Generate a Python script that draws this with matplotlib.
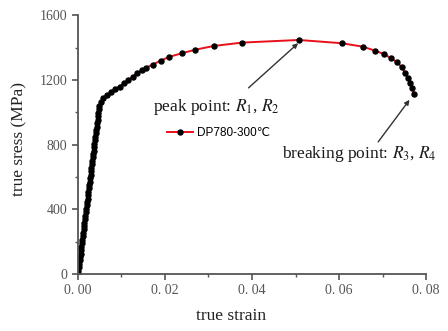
import matplotlib
matplotlib.use('Agg')
import matplotlib.pyplot as plt


# elastic part (dense points) + plastic part + necking part
strain = [0.0, 0.0001, 0.0002, 0.0003, 0.0004, 0.0005, 0.0006, 0.0007, 0.0008, 0.0009,
          0.0010, 0.0011, 0.0012, 0.0013, 0.0014, 0.0015, 0.0016, 0.0017, 0.0018, 0.0019,
          0.0020, 0.0021, 0.0022, 0.0023, 0.0024, 0.0025, 0.0026, 0.0027, 0.0028, 0.0029,
          0.0030, 0.0031, 0.0032, 0.0033, 0.0034, 0.0035, 0.0036, 0.0037, 0.0038, 0.0039,
          0.0040, 0.0041, 0.0042, 0.0043, 0.0044, 0.0045, 0.0046, 0.0047, 0.0048, 0.0049,
          0.00529, 0.00575, 0.00667, 0.00759, 0.00858, 0.00956, 0.0106, 0.0116,
          0.0126, 0.0136, 0.0147, 0.0157, 0.0172, 0.0190, 0.0209, 0.0239, 0.0270,
          0.0312, 0.0378, 0.0508, 0.0606, 0.0654, 0.0683, 0.0704, 0.0720, 0.0733,
          0.0744, 0.0752, 0.0758, 0.0763, 0.0768, 0.0772]
stress = [0, 21, 42, 64, 85, 106, 127, 148, 170, 191,
          212, 233, 254, 276, 297, 318, 339, 360, 382, 403,
          424, 445, 466, 488, 509, 530, 551, 572, 594, 615,
          636, 657, 678, 700, 721, 742, 763, 784, 806, 827,
          848, 869, 890, 912, 933, 954, 975, 996, 1018, 1040,
          1066, 1087, 1108, 1124, 1143, 1159, 1180, 1200, 1221, 1242, 1262, 1276,
          1295, 1319, 1342, 1365, 1387, 1410, 1431, 1447, 1427, 1406, 1381, 1359,
          1334, 1310, 1279, 1245, 1211, 1180, 1149, 1114]

xticks = [0.0, 0.02, 0.04, 0.06, 0.08]
xticklabels = ['0. 00', '0. 02', '0. 04', '0. 06', '0. 08']
yticks = [0, 400, 800, 1200, 1600]

plt.rcParams['font.family'] = ['Liberation Serif', 'DejaVu Serif']
plt.rcParams['mathtext.fontset'] = 'stix'

fig = plt.figure(figsize=(4.48, 3.31), dpi=100)
ax = fig.add_axes([0.174, 0.172, 0.777, 0.782])

ax.plot(strain, stress, color='#e8101a', lw=1.4, marker='o', ms=3.6,
        mfc='black', mec='black', label='DP780-300\u2103')

ax.set_xlim(0, 0.08)
ax.set_ylim(0, 1600)
ax.set_xticks(xticks)
ax.set_xticklabels(xticklabels)
ax.set_yticks(yticks)
ax.set_xticks([0.01, 0.03, 0.05, 0.07], minor=True)
ax.set_yticks([200, 600, 1000, 1400], minor=True)

for s in ['top', 'right']:
    ax.spines[s].set_visible(False)
for s in ['left', 'bottom']:
    ax.spines[s].set_color('#555555')
    ax.spines[s].set_linewidth(1.3)
ax.tick_params(which='major', direction='out', length=4, width=1.2,
               color='#555555', labelcolor='#555555', labelsize=10)
ax.tick_params(which='minor', direction='out', length=2.5, width=1.0, color='#555555')

ax.set_xlabel('true strain', fontsize=12.5, color='#222222')
ax.xaxis.set_label_coords(0.44, -0.13)
ax.set_ylabel('true sress (MPa)', fontsize=12.5, color='#222222')
ax.yaxis.set_label_coords(-0.145, 0.52)

ax.annotate('', xy=(0.0506, 1427), xytext=(0.0392, 1151),
            arrowprops=dict(arrowstyle='-|>', color='#333333', lw=1.0,
                            mutation_scale=7, shrinkA=0, shrinkB=0))
ax.annotate('', xy=(0.0762, 1077), xytext=(0.0690, 817),
            arrowprops=dict(arrowstyle='-|>', color='#333333', lw=1.0,
                            mutation_scale=7, shrinkA=0, shrinkB=0))

ax.text(0.0173, 1035, 'peak point: $R_1$, $R_2$', fontsize=12.5,
        color='#1a1a1a', va='center', ha='left')
ax.text(0.0470, 740, 'breaking point: $R_3$, $R_4$', fontsize=12.5,
        color='#1a1a1a', va='center', ha='left', clip_on=False)

leg = ax.legend(loc='center left', bbox_to_anchor=(0.24, 0.545), frameon=False,
                handlelength=2.2, handletextpad=0.3, borderpad=0,
                prop={'family': ['Liberation Sans', 'DejaVu Sans'], 'size': 8.5})

fig.savefig('out.png', dpi=100)
